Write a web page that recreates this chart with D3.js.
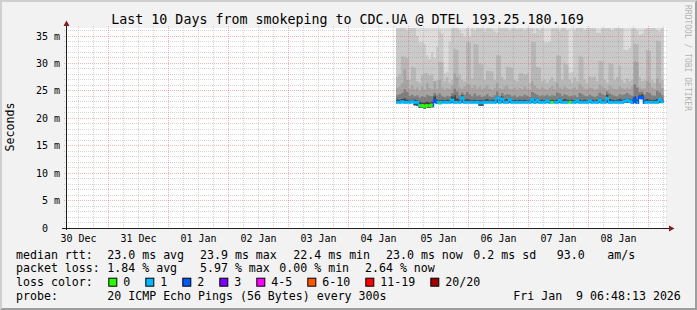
<!DOCTYPE html>
<html>
<head>
<meta charset="utf-8">
<script src="https://cdn.jsdelivr.net/npm/d3@7"></script>
<style>
body { margin: 0; background: #f2f2f2; }
text { font-family: "DejaVu Sans Mono", monospace; white-space: pre; }
</style>
</head>
<body>
<svg id="chart" width="697" height="310"></svg>
<script>
// ---- data ----
var title = "Last 10 Days from smokeping to CDC.UA @ DTEL 193.25.180.169";
var yTicks = [0, 5, 10, 15, 20, 25, 30, 35];
var yTickLabels = ["0  ", "5 m", "10 m", "15 m", "20 m", "25 m", "30 m", "35 m"];
var dayLabels = ["30 Dec", "31 Dec", "01 Jan", "02 Jan", "03 Jan", "04 Jan", "05 Jan", "06 Jan", "07 Jan", "08 Jan"];
var graphStart = new Date(2025, 11, 30, 6, 48, 13);
var graphEnd = new Date(2026, 0, 9, 6, 48, 13);
var dataStart = new Date(2026, 0, 4, 19, 0, 0);   // first hourly column

// smoke layers (ms), outermost to innermost, one value per hour
var smokeOuter = [39.5,41.0,40.2,38.8,42.5,40.0,39.1,41.7,40.4,38.6,
  39.8,40.9,38.3,39.6,41.2,40.5,39.0,42.1,40.8,39.3,
  38.9,40.6,41.8,39.7,40.3,38.7,41.5,40.1,39.4,42.0,
  40.7,39.2,41.3,38.5,40.0,39.9,41.1,40.6,38.8,39.5,
  41.9,40.2,39.6,38.9,40.8,41.4,39.1,40.5,42.3,39.8,
  40.1,38.6,41.0,39.3,40.7,42.2,39.5,40.9,38.4,41.6,
  39.7,40.3,41.2,38.8,39.9,40.6,42.4,39.2,40.0,38.9,
  41.3,39.6,40.4,38.7,41.9,40.2,39.4,42.0,40.8,39.1,
  38.9,40.7,41.5,39.8,40.1,38.6,41.1,40.3,39.5,42.1,
  40.6,39.0,41.7,38.8,40.4,39.7,41.2,40.0,38.5,39.9,
  41.4,40.2,39.3,42.2,40.9,38.7,39.6];
var smokeHigh = [36.5,37.0,38.0,37.0,36.0,38.0,36.8,37.5,35.0,33.8,
  33.9,33.5,31.5,30.8,32.0,31.0,33.0,36.0,35.5,28.2,
  28.5,34.0,36.5,37.0,38.0,36.0,35.5,34.8,37.0,34.9,
  37.5,36.0,38.0,37.0,36.5,35.8,37.0,38.5,36.2,35.8,
  35.6,37.0,36.5,38.0,37.0,36.0,36.8,37.5,36.2,38.0,
  37.0,36.0,37.5,38.0,36.5,35.5,37.0,36.0,38.0,33.8,
  33.8,34.0,36.5,37.0,38.0,36.0,37.5,36.8,36.0,28.3,
  28.5,36.0,37.5,38.0,37.0,36.0,37.5,36.5,38.0,37.0,
  35.6,35.6,37.0,38.0,36.5,37.0,36.0,38.0,37.0,36.5,
  37.0,32.5,32.4,32.8,37.5,38.0,36.0,35.2,35.4,36.2,
  37.0,38.0,36.5,37.0,36.0,35.8,36.5];
var smokeMid = [27.5,28.0,31.3,31.2,31.0,27.0,29.4,29.2,26.8,26.5,
  28.0,28.2,28.2,27.8,28.0,26.5,27.0,30.3,30.2,26.8,
  27.5,26.5,27.0,32.7,32.5,28.0,27.0,26.8,34.0,33.8,
  27.2,33.6,33.4,30.0,29.8,27.0,28.7,28.6,28.5,27.0,
  31.5,31.4,27.5,27.0,29.4,29.3,29.2,27.0,26.8,28.2,
  28.2,28.0,28.1,26.5,34.0,33.9,29.4,29.2,26.8,27.0,
  26.5,27.0,27.5,26.8,31.5,31.4,27.0,30.0,29.8,27.0,
  26.5,27.5,26.8,31.3,31.2,27.0,26.5,27.6,27.5,27.6,
  26.8,30.5,30.4,27.0,26.5,30.0,29.9,27.0,27.5,29.6,
  27.0,26.5,27.2,26.8,27.0,33.6,33.5,27.5,26.8,27.0,
  32.4,32.3,27.0,26.5,34.2,34.0,27.0];
var smokeLowMid = [25.5,25.8,26.5,28.9,27.0,25.4,26.0,25.3,25.6,25.0,
  25.8,25.2,26.5,25.5,25.3,26.8,25.4,27.0,25.6,25.2,
  25.5,25.3,26.0,28.2,27.5,25.6,25.4,25.8,26.3,26.1,
  25.5,26.0,25.4,25.8,25.3,25.6,26.0,25.4,25.2,25.5,
  26.5,25.5,25.3,25.8,26.0,25.4,25.3,25.6,25.2,25.5,
  25.3,25.8,25.4,25.2,26.8,26.0,25.5,25.3,25.6,25.4,
  25.2,25.5,25.8,25.3,26.5,25.6,25.4,25.8,25.5,25.3,
  25.4,25.6,25.2,26.3,25.8,25.4,25.3,25.6,25.5,25.2,
  25.4,26.2,25.8,25.5,25.3,26.0,25.6,25.4,25.3,25.8,
  25.5,25.3,25.6,25.4,25.8,30.3,30.2,25.6,25.4,25.5,
  26.8,26.5,25.6,25.4,27.2,26.5,25.5];
var smokeNear = [24.2,24.4,24.6,25.3,24.8,24.1,24.3,24.0,24.2,23.8,
  24.0,23.9,24.3,24.1,24.0,24.6,24.2,24.5,24.1,23.9,
  24.1,24.0,24.6,25.4,24.9,24.2,24.7,24.3,24.8,24.4,
  24.0,24.5,24.1,24.2,23.9,24.1,24.4,24.0,23.9,24.2,
  24.9,24.1,24.6,24.2,24.4,24.3,24.0,24.2,23.9,24.1,
  24.0,24.3,24.1,23.9,24.8,24.5,24.3,24.0,24.2,24.1,
  24.3,24.0,24.2,24.1,24.7,24.5,24.1,24.4,24.2,24.0,
  24.1,24.2,23.9,24.6,24.4,24.1,24.0,24.3,24.1,23.9,
  24.1,24.7,24.4,24.2,24.9,24.5,24.3,24.1,24.0,24.4,
  24.2,24.4,24.6,24.3,24.1,26.2,25.6,24.8,24.9,24.3,
  24.8,24.6,24.2,24.1,25.0,24.7,24.2];
var smokeCore = [23.4,23.4,23.5,23.6,23.4,23.3,23.4,23.4,23.3,23.0,
  22.9,22.9,23.0,22.9,23.0,24.1,23.4,23.3,23.4,23.3,
  23.4,23.3,24.0,24.2,23.6,23.4,24.2,23.4,23.5,23.4,
  23.3,23.4,23.3,23.3,23.3,23.4,23.5,23.3,23.4,23.3,
  24.0,23.4,24.0,23.4,23.5,23.6,23.3,23.4,23.3,23.4,
  23.3,23.4,23.3,23.3,23.7,23.5,23.6,23.3,23.4,23.3,
  23.5,23.3,23.4,23.3,23.4,23.6,23.3,23.5,23.4,23.3,
  23.4,23.3,23.5,23.4,23.3,23.4,23.3,23.5,23.4,23.3,
  23.4,23.6,23.4,23.3,24.3,23.5,23.4,23.3,23.4,23.5,
  23.4,23.5,23.6,23.5,23.4,24.0,23.4,24.2,24.4,23.4,
  23.5,23.4,23.3,23.4,23.5,23.7,23.4];
var smokeBottom = [22.8,22.8,22.8,22.8,22.8,22.8,22.8,22.4,22.3,21.9,
  21.9,21.8,21.9,21.9,22.0,22.8,22.8,22.6,22.8,22.8,
  22.8,22.8,22.8,22.8,22.8,22.8,22.8,22.8,22.8,22.8,
  22.8,22.8,22.8,22.3,22.3,22.8,22.8,22.8,22.8,22.8,
  22.8,22.8,22.8,22.8,22.8,22.8,22.8,22.8,22.8,22.8,
  22.8,22.8,22.8,22.8,22.8,22.8,22.8,22.8,22.8,22.8,
  22.8,22.8,22.8,22.8,22.8,22.8,22.8,22.8,22.8,22.8,
  22.8,22.8,22.8,22.8,22.8,22.8,22.8,22.8,22.8,22.8,
  22.8,22.8,22.8,22.8,22.8,22.8,22.8,22.8,22.8,22.8,
  22.8,22.8,22.8,22.8,22.8,22.8,22.8,23.6,23.6,22.8,
  22.8,22.8,22.8,22.8,22.8,22.8,22.8];
var median = [23.0,23.0,23.1,23.0,23.0,23.0,23.1,23.0,23.0,22.4,
  22.4,22.3,22.4,22.4,22.5,23.3,23.0,22.9,23.0,23.0,
  23.0,23.0,23.4,23.0,23.0,23.0,23.8,23.0,23.0,23.0,
  23.0,23.0,23.0,22.9,22.9,23.0,23.0,23.0,23.0,23.0,
  23.8,23.0,23.6,23.0,23.0,23.5,23.0,23.0,23.0,23.0,
  23.0,23.0,23.0,23.0,23.5,23.0,23.4,23.0,23.0,23.0,
  23.3,23.0,23.0,23.0,23.0,23.4,23.0,23.0,23.0,23.0,
  23.0,23.0,23.3,23.0,23.0,23.0,23.0,23.3,23.0,23.0,
  23.0,23.4,23.0,23.0,23.7,23.0,23.0,23.0,23.0,23.0,
  23.0,23.2,23.4,23.2,23.0,23.6,23.0,23.9,23.8,23.0,
  23.0,23.0,23.0,23.0,23.0,23.5,23.1];
var lossCount = [1,1,1,1,1,1,1,1,1,0,
  0,0,0,0,0,2,1,0,1,1,
  1,1,1,1,1,1,1,1,1,1,
  1,1,1,1,1,1,1,1,1,1,
  1,1,1,1,1,1,1,1,1,1,
  1,1,1,1,1,1,1,1,1,1,
  1,1,0,1,1,1,1,1,1,0,
  1,1,1,1,1,1,1,1,1,1,
  1,1,1,1,1,1,1,1,1,1,
  1,1,1,1,1,2,1,2,2,1,
  1,1,1,1,1,1,1];

var lossLabels = ["0", "1", "2", "3", "4-5", "6-10", "11-19", "20/20"];
var lossColors = ["#26ff00", "#00b8ff", "#0059ff", "#7e00ff", "#ff00ff", "#ff5500", "#ff0000", "#a10000"];
var rttStats = ["23.0 ms avg", "23.9 ms max", "22.4 ms min", "23.0 ms now", "0.2 ms sd", "93.0", "am/s"];
var lossStats = ["1.84 % avg", "5.97 % max", "0.00 % min", "2.64 % now"];
var probeText = "20 ICMP Echo Pings (56 Bytes) every 300s";
var stampText = "Fri Jan  9 06:48:13 2026";

// ---- layout ----
var W = 697, H = 310;
var rttX = [107.3, 200, 293.3, 386, 473.3, 556.7, 607.3];
var lossX = [107.3, 200, 279.3, 365];
var charW = 7.0;
var smokeColors = ["#dddddd", "#cacaca", "#b7b7b7", "#a4a4a4", "#7e7e7e", "#454545"];
var smokeLayers = [smokeOuter, smokeHigh, smokeMid, smokeLowMid, smokeNear, smokeCore];

var svg = d3.select("#chart");
var x = d3.scaleTime().domain([graphStart, graphEnd]).range([65.5, 665.5]);
var y = d3.scaleLinear().domain([0, 36.46]).range([228, 28]);
function snap(v) { return Math.floor(v) + 0.5; }

// background + 3d frame
svg.append("rect").attr("width", W).attr("height", H).attr("fill", "#f2f2f2");
svg.append("path").attr("fill", "#cfcfcf")
  .attr("d", "M0,0H" + W + "L" + (W-2) + ",2H2V" + (H-2) + "L0," + H + "Z");
svg.append("path").attr("fill", "#9e9e9e")
  .attr("d", "M" + W + ",0V" + H + "H0L2," + (H-2) + "H" + (W-2) + "V2Z");

// canvas
svg.append("rect").attr("x", 66).attr("y", 28).attr("width", 600).attr("height", 200).attr("fill", "#fff");
svg.append("clipPath").attr("id", "plotclip").append("rect")
  .attr("x", 66).attr("y", 28).attr("width", 600).attr("height", 200);

// smoke
var n = median.length;
function colTime(i) { return d3.timeHour.offset(dataStart, i); }
var area = d3.area().curve(d3.curveStepAfter)
  .x(function (d) { return x(d.t); })
  .y0(function (d) { return y(d.lo); })
  .y1(function (d) { return y(d.hi); });
var gSmoke = svg.append("g").attr("clip-path", "url(#plotclip)");
smokeLayers.forEach(function (layer, k) {
  var pts = layer.map(function (v, i) { return { t: colTime(i), lo: smokeBottom[i], hi: v }; });
  pts.push({ t: colTime(n), lo: smokeBottom[n-1], hi: layer[n-1] });
  gSmoke.append("path").attr("d", area(pts)).attr("fill", smokeColors[k]);
});

// grid
var gGrid = svg.append("g").attr("fill", "none");
d3.range(0, 37).forEach(function (v) {
  if (v === 0) return;
  var major = v % 5 === 0;
  gGrid.append("line")
    .attr("x1", 64).attr("x2", 668)
    .attr("y1", snap(y(v))).attr("y2", snap(y(v)))
    .attr("stroke", major ? "rgba(222,79,79,0.6)" : "rgba(143,143,143,0.75)")
    .attr("stroke-width", major ? 0.7 : 0.5)
    .attr("stroke-dasharray", "1,1");
});
d3.timeHour.every(6).range(graphStart, graphEnd).forEach(function (t) {
  var major = t.getHours() === 0;
  gGrid.append("line")
    .attr("x1", snap(x(t))).attr("x2", snap(x(t)))
    .attr("y1", 26).attr("y2", 230)
    .attr("stroke", major ? "rgba(222,79,79,0.6)" : "rgba(143,143,143,0.75)")
    .attr("stroke-width", major ? 0.7 : 0.5)
    .attr("stroke-dasharray", "1,1");
});

// median line coloured by loss
var gMed = svg.append("g").attr("clip-path", "url(#plotclip)");
median.forEach(function (m, i) {
  var x0 = x(colTime(i)), x1 = x(colTime(i + 1));
  var ym = y(m) + 0.5;
  var col = lossColors[lossCount[i]];
  gMed.append("rect").attr("x", x0).attr("y", ym - 1.5).attr("width", x1 - x0).attr("height", 3).attr("fill", col);
  if (i > 0 && median[i-1] !== m) {
    var yp = y(median[i-1]) + 0.5;
    var c2 = median[i-1] > m ? lossColors[lossCount[i-1]] : col;
    gMed.append("rect").attr("x", x0 - 0.75).attr("width", 1.5)
      .attr("y", Math.min(yp, ym) - 1.5).attr("height", Math.abs(yp - ym) + 3).attr("fill", c2);
  }
});

// axes + arrows
svg.append("line").attr("x1", 66.5).attr("x2", 66.5).attr("y1", 230).attr("y2", 24)
  .attr("stroke", "#1f1f1f").attr("stroke-width", 1);
svg.append("line").attr("x1", 62).attr("x2", 670).attr("y1", 228.5).attr("y2", 228.5)
  .attr("stroke", "#1f1f1f").attr("stroke-width", 1);
svg.append("path").attr("fill", "#801f1f").attr("d", "M63.5,26L66.5,20.5L69.5,26Z");
svg.append("path").attr("fill", "#801f1f").attr("d", "M669,225.5L674.5,228.5L669,231.5Z");

// y tick labels
yTicks.forEach(function (v, i) {
  svg.append("text").attr("x", 60).attr("y", snap(y(v)) + 3.6)
    .attr("text-anchor", "end").attr("font-size", "10px").text(yTickLabels[i]);
});
// x labels at noon of each day
d3.timeDay.range(d3.timeDay.floor(graphStart), graphEnd).forEach(function (d, i) {
  if (i >= dayLabels.length) return;
  svg.append("text").attr("x", x(d3.timeHour.offset(d, 12))).attr("y", 242)
    .attr("text-anchor", "middle").attr("font-size", "10px").text(dayLabels[i]);
});

// title, axis title, watermark
svg.append("text").attr("x", 347.5).attr("y", 23.5).attr("text-anchor", "middle")
  .attr("font-size", "13.3px").text(title);
svg.append("text").attr("transform", "translate(14.3,127) rotate(-90)")
  .attr("text-anchor", "middle").attr("font-size", "11.6px").text("Seconds");
svg.append("text").attr("transform", "translate(684.5,5) rotate(90)")
  .attr("font-size", "8px").attr("fill", "#000").attr("fill-opacity", 0.3)
  .text("RRDTOOL / TOBI OETIKER");

// legend
var fs = "11.6px";
var rows = [258.5, 272.3, 286.2, 299.5];
svg.append("text").attr("x", 16).attr("y", rows[0]).attr("font-size", fs).text("median rtt:");
rttStats.forEach(function (s, i) {
  svg.append("text").attr("x", rttX[i]).attr("y", rows[0]).attr("font-size", fs).text(s);
});
svg.append("text").attr("x", 16).attr("y", rows[1]).attr("font-size", fs).text("packet loss:");
lossStats.forEach(function (s, i) {
  svg.append("text").attr("x", lossX[i]).attr("y", rows[1]).attr("font-size", fs).text(s);
});
svg.append("text").attr("x", 16).attr("y", rows[2]).attr("font-size", fs).text("loss color:");
var bx = 108.3;
lossLabels.forEach(function (s, i) {
  svg.append("rect").attr("x", bx + 0.5).attr("y", 278.2).attr("width", 8).attr("height", 8)
    .attr("fill", lossColors[i]).attr("stroke", "#000").attr("stroke-width", 1);
  svg.append("text").attr("x", bx + 15).attr("y", rows[2]).attr("font-size", fs).text(s);
  bx += 15 + s.length * charW + 15;
});
svg.append("text").attr("x", 16).attr("y", rows[3]).attr("font-size", fs).text("probe:");
svg.append("text").attr("x", 107.3).attr("y", rows[3]).attr("font-size", fs).text(probeText);
svg.append("text").attr("x", 513.3).attr("y", rows[3]).attr("font-size", fs).text(stampText);
</script>
</body>
</html>
